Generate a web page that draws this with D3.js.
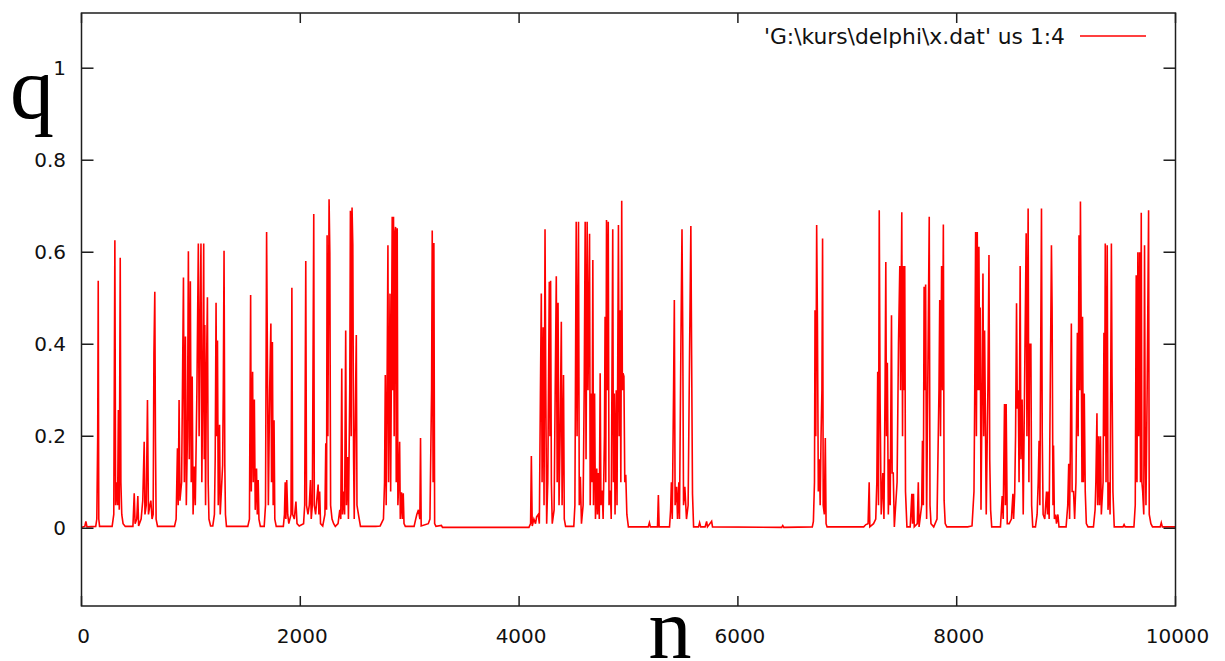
<!DOCTYPE html>
<html>
<head>
<meta charset="utf-8">
<script src="https://cdn.jsdelivr.net/npm/d3@7"></script>
<style>
    body { margin: 0; background: #fff; }
    svg { display: block; }
</style>
</head>
<body>
<div id="chart"></div>
<script>
// Tick values of both axes
const xTicks = [0, 2000, 4000, 6000, 8000, 10000];
const yTicks = [0, 0.2, 0.4, 0.6, 0.8, 1];

const legendLabel = "'G:\\kurs\\delphi\\x.dat' us 1:4";

// Curve vertices [n, q]
const cluster1 = [
    [0,0.002],[30,0.004],[40,0.015],[50,0.003],[130,0.004],[140,0.02],[148,0.2],[153,0.538],[158,0.02],[165,0.004],
    [280,0.004],[295,0.03],[305,0.626],[312,0.05],[320,0.1],[330,0.05],[337,0.257],[345,0.04],[354,0.588],[360,0.1],[368,0.03],[380,0.01],[400,0.004],
    [470,0.004],[482,0.076],[490,0.01],[505,0.02],[515,0.07],[522,0.005],[545,0.02],[560,0.06],[573,0.188],[580,0.03],[592,0.05],[603,0.279],[612,0.03],[625,0.05],[634,0.06],[645,0.02],[655,0.03],[662,0.38],[670,0.514],[676,0.195],[682,0.02],[695,0.004],
    [850,0.004],[865,0.02],[877,0.174],[884,0.05],[892,0.279],[900,0.06],[915,0.1],[932,0.545],[940,0.1],[950,0.417],[958,0.05],[968,0.2],[977,0.602],[985,0.15],[995,0.537],[1003,0.1],[1012,0.33],[1020,0.03],[1030,0.134],[1040,0.05],[1055,0.3],[1068,0.619],[1075,0.2],[1084,0.45],[1092,0.619],[1100,0.1],[1108,0.3],[1117,0.619],[1122,0.15],[1127,0.442],[1134,0.05],[1142,0.337],[1151,0.502],[1158,0.1],[1165,0.02],[1180,0.005],
    [1200,0.005],[1215,0.03],[1222,0.15],[1230,0.49],[1236,0.2],[1243,0.408],[1250,0.05],[1262,0.225],[1268,0.03],[1290,0.137],[1296,0.3],[1303,0.603],[1310,0.137],[1316,0.03],[1325,0.004]
];

const cluster2 = [
    [1520,0.004],[1535,0.02],[1546,0.507],[1552,0.08],[1564,0.34],[1570,0.1],[1580,0.28],[1588,0.04],[1600,0.13],[1607,0.03],[1615,0.105],[1622,0.02],[1635,0.004],
    [1670,0.004],[1682,0.05],[1692,0.644],[1700,0.344],[1708,0.05],[1720,0.3],[1731,0.445],[1737,0.1],[1745,0.405],[1752,0.05],[1760,0.235],[1767,0.02],[1780,0.004],
    [1845,0.004],[1855,0.03],[1862,0.1],[1868,0.02],[1876,0.105],[1885,0.03],[1895,0.01],[1915,0.03],[1923,0.523],[1930,0.03],[1945,0.02],[1960,0.058],[1970,0.01],[1990,0.005],
    [2030,0.01],[2040,0.05],[2050,0.581],[2057,0.05],[2070,0.03],[2082,0.05],[2093,0.105],[2100,0.02],[2110,0.05],[2123,0.683],[2128,0.05],[2140,0.03],[2150,0.06],[2163,0.095],[2170,0.03],[2177,0.08],[2185,0.01],[2205,0.005],[2225,0.03],[2233,0.185],[2240,0.04],[2245,0.637],[2252,0.2],[2263,0.715],[2270,0.597],[2277,0.05],[2290,0.02],[2305,0.01],[2320,0.004],
    [2345,0.01],[2361,0.04],[2370,0.02],[2379,0.347],[2386,0.03],[2398,0.08],[2405,0.03],[2415,0.43],[2422,0.05],[2433,0.155],[2440,0.02],[2452,0.3],[2458,0.69],[2465,0.2],[2473,0.697],[2480,0.615],[2487,0.155],[2493,0.02],[2500,0.2],[2512,0.42],[2518,0.05],[2535,0.025],[2550,0.004],
    [2690,0.004],[2730,0.005],[2760,0.02],[2770,0.1],[2777,0.333],[2785,0.05],[2793,0.3],[2801,0.615],[2807,0.1],[2820,0.51],[2826,0.08],[2834,0.4],[2840,0.677],[2845,0.3],[2852,0.677],[2858,0.2],[2865,0.64],[2871,0.655],[2877,0.1],[2886,0.652],[2892,0.05],[2900,0.1],[2908,0.188],[2914,0.02],[2925,0.078],[2933,0.02],[2941,0.076],[2948,0.01],[2960,0.004],
    [3040,0.004],[3055,0.02],[3065,0.03],[3080,0.04],[3093,0.02],[3099,0.196],[3105,0.005],[3170,0.01],[3185,0.02],[3200,0.3],[3206,0.647],[3214,0.1],[3221,0.62],[3228,0.01],[3240,0.004],[3290,0.006],[3300,0.002]
];

const cluster3 = [
    [4090,0.002],[4105,0.01],[4112,0.157],[4120,0.005],[4135,0.02],[4150,0.01],[4160,0.025],[4175,0.03],[4185,0.01],[4195,0.3],[4203,0.51],[4210,0.1],[4220,0.437],[4228,0.05],[4237,0.65],[4244,0.3],[4252,0.01],[4262,0.1],[4276,0.536],[4282,0.2],[4288,0.538],[4295,0.1],[4303,0.01],[4320,0.04],[4330,0.3],[4340,0.548],[4348,0.1],[4356,0.49],[4365,0.05],[4375,0.2],[4386,0.449],[4393,0.05],[4406,0.333],[4413,0.02],[4425,0.004],
    [4500,0.004],[4510,0.05],[4522,0.666],[4530,0.2],[4543,0.666],[4550,0.05],[4560,0.112],[4570,0.01],[4585,0.05],[4595,0.3],[4604,0.666],[4612,0.15],[4622,0.666],[4630,0.3],[4644,0.64],[4650,0.05],[4660,0.293],[4667,0.1],[4674,0.583],[4680,0.05],[4690,0.293],[4698,0.02],[4710,0.13],[4716,0.03],[4725,0.12],[4733,0.02],[4741,0.337],[4748,0.05],[4760,0.082],[4768,0.02],[4780,0.2],[4786,0.46],[4792,0.1],[4799,0.67],[4806,0.3],[4815,0.666],[4822,0.05],[4835,0.082],[4842,0.02],[4856,0.65],[4862,0.1],[4870,0.293],[4877,0.03],[4888,0.3],[4895,0.05],[4908,0.659],[4915,0.2],[4922,0.474],[4930,0.1],[4938,0.712],[4944,0.3],[4950,0.337],[4958,0.33],[4966,0.1],[4975,0.116],[4985,0.03],[4999,0.003],
    [5180,0.003],[5191,0.012],[5200,0.003],[5265,0.003],[5273,0.072],[5280,0.003],
    [5375,0.003],[5385,0.04],[5392,0.1],[5400,0.02],[5412,0.3],[5419,0.496],[5426,0.05],[5440,0.09],[5448,0.02],[5460,0.1],[5466,0.02],[5479,0.4],[5489,0.65],[5496,0.42],[5503,0.05],[5515,0.09],[5530,0.02],[5545,0.05],[5558,0.376],[5570,0.657],[5577,0.376],[5585,0.075],[5595,0.003],
    [5640,0.003],[5650,0.012],[5660,0.003],[5700,0.003],[5714,0.015],[5722,0.003],[5760,0.015],[5768,0.003]
];

const cluster4 = [
    [6400,0.002],[6410,0.006],[6420,0.002],[6680,0.003],[6690,0.015],[6700,0.1],[6705,0.474],[6712,0.2],[6720,0.659],[6727,0.445],[6735,0.08],[6745,0.15],[6752,0.05],[6760,0.2],[6768,0.3],[6774,0.63],[6780,0.05],[6790,0.03],[6799,0.196],[6806,0.01],[6815,0.003]
];

const cluster5 = [
    [7150,0.003],[7170,0.008],[7190,0.01],[7200,0.1],[7206,0.003],[7240,0.01],[7260,0.02],[7270,0.1],[7278,0.34],[7285,0.05],[7292,0.691],[7300,0.27],[7310,0.03],[7325,0.12],[7335,0.02],[7345,0.3],[7352,0.579],[7358,0.2],[7366,0.36],[7375,0.03],[7385,0.15],[7392,0.05],[7404,0.463],[7410,0.12],[7420,0.12],[7430,0.003],[7455,0.1],[7468,0.4],[7480,0.57],[7487,0.3],[7498,0.687],[7505,0.2],[7510,0.57],[7518,0.3],[7525,0.57],[7532,0.08],[7545,0.003],
    [7575,0.003],[7590,0.075],[7596,0.01],[7605,0.075],[7612,0.003],[7640,0.01],[7649,0.1],[7656,0.003],[7680,0.05],[7687,0.19],[7695,0.05],[7702,0.525],[7710,0.3],[7716,0.53],[7725,0.02],[7735,0.3],[7749,0.677],[7756,0.05],[7765,0.01],[7790,0.003],[7820,0.02],[7838,0.3],[7845,0.496],[7852,0.2],[7862,0.57],[7870,0.3],[7878,0.66],[7885,0.06],[7895,0.01],[7910,0.003]
];

const cluster6 = [
    [8100,0.003],[8140,0.005],[8158,0.08],[8165,0.3],[8173,0.644],[8180,0.2],[8188,0.644],[8195,0.3],[8203,0.612],[8210,0.3],[8215,0.48],[8222,0.04],[8232,0.3],[8240,0.554],[8247,0.2],[8255,0.43],[8262,0.25],[8270,0.03],[8285,0.3],[8295,0.594],[8302,0.15],[8310,0.04],[8320,0.003],
    [8400,0.003],[8416,0.07],[8425,0.02],[8437,0.27],[8445,0.05],[8452,0.27],[8462,0.01],[8480,0.01],[8500,0.02],[8514,0.075],[8520,0.02],[8530,0.075],[8538,0.2],[8547,0.489],[8554,0.26],[8563,0.3],[8570,0.1],[8580,0.57],[8587,0.15],[8598,0.28],[8608,0.03],[8620,0.3],[8635,0.641],[8642,0.2],[8653,0.695],[8660,0.1],[8666,0.4],[8678,0.4],[8685,0.05],[8695,0.003],
    [8720,0.003],[8735,0.03],[8745,0.1],[8753,0.19],[8760,0.05],[8775,0.695],[8782,0.2],[8790,0.03],[8805,0.02],[8821,0.08],[8830,0.03],[8837,0.08],[8845,0.02],[8855,0.3],[8866,0.615],[8872,0.48],[8880,0.05],[8885,0.18],[8893,0.02],[8905,0.03],[8912,0.01],[8925,0.03],[8935,0.003],
    [9000,0.003],[9015,0.05],[9024,0.14],[9032,0.02],[9040,0.2],[9048,0.445],[9055,0.08],[9068,0.08],[9078,0.02],[9090,0.1],[9103,0.425],[9110,0.2],[9118,0.637],[9125,0.3],[9131,0.71],[9137,0.46],[9145,0.1],[9150,0.46],[9158,0.1],[9166,0.293],[9175,0.08],[9185,0.01],[9200,0.003],
    [9250,0.003],[9265,0.04],[9272,0.1],[9282,0.25],[9288,0.05],[9297,0.2],[9305,0.05],[9314,0.2],[9322,0.03],[9338,0.1],[9346,0.425],[9352,0.2],[9358,0.619],[9365,0.1],[9376,0.615],[9383,0.04],[9395,0.1],[9402,0.03],[9414,0.619],[9420,0.33],[9428,0.08],[9440,0.003],
    [9520,0.003],[9530,0.008],[9540,0.003],[9620,0.003],[9632,0.05],[9641,0.55],[9648,0.1],[9656,0.6],[9663,0.2],[9672,0.6],[9680,0.1],[9687,0.686],[9693,0.1],[9700,0.08],[9710,0.03],[9717,0.615],[9723,0.2],[9730,0.05],[9741,0.3],[9754,0.691],[9760,0.03],[9775,0.01],[9790,0.003],
    [9860,0.003],[9870,0.012],[9880,0.003],[10000,0.003]
];

const width = 1225;
const height = 661;

// Plot frame
const plotLeft = 81.5, plotRight = 1175.5, plotTop = 13, plotBottom = 606;

const svg = d3.select("#chart").append("svg")
    .attr("width", width)
    .attr("height", height);

const xScale = d3.scaleLinear().domain([0, 10000]).range([plotLeft, plotRight]);
const yScale = d3.scaleLinear().domain([-0.169, 1.12]).range([plotBottom, plotTop]);

const tickFont = "'DejaVu Sans', Verdana, sans-serif";
const frameColor = "#1e1e1e";

// Clip the curve to the frame
svg.append("clipPath").attr("id", "plot-clip")
    .append("rect")
    .attr("x", plotLeft).attr("y", plotTop)
    .attr("width", plotRight - plotLeft).attr("height", plotBottom - plotTop);

// Data line
const points = [].concat(cluster1, cluster2, cluster3, cluster4, cluster5, cluster6);
const line = d3.line()
    .x(d => xScale(d[0]))
    .y(d => yScale(d[1]));

svg.append("path")
    .datum(points)
    .attr("clip-path", "url(#plot-clip)")
    .attr("fill", "none")
    .attr("stroke", "#ff0000")
    .attr("stroke-width", 1.6)
    .attr("d", line);

// Frame and mirrored ticks
const frame = svg.append("g")
    .attr("stroke", frameColor)
    .attr("stroke-width", 1.5)
    .attr("fill", "none");

frame.append("rect")
    .attr("x", plotLeft).attr("y", plotTop)
    .attr("width", plotRight - plotLeft).attr("height", plotBottom - plotTop);

xTicks.forEach(t => {
    let x = xScale(t);
    frame.append("line").attr("x1", x).attr("x2", x).attr("y1", plotBottom).attr("y2", plotBottom - 10);
    frame.append("line").attr("x1", x).attr("x2", x).attr("y1", plotTop).attr("y2", plotTop + 10);
});

yTicks.forEach(t => {
    let y = yScale(t);
    frame.append("line").attr("x1", plotLeft).attr("x2", plotLeft + 12).attr("y1", y).attr("y2", y);
    frame.append("line").attr("x1", plotRight).attr("x2", plotRight - 12).attr("y1", y).attr("y2", y);
});

// Tick labels
svg.append("g").selectAll("text")
    .data(yTicks)
    .enter().append("text")
        .attr("x", 66)
        .attr("y", d => yScale(d))
        .attr("dy", "0.36em")
        .attr("text-anchor", "end")
        .attr("font-family", tickFont)
        .attr("font-size", 20)
        .attr("fill", "#111")
        .text(d => d3.format("")(d));

svg.append("g").selectAll("text")
    .data(xTicks)
    .enter().append("text")
        .attr("x", d => xScale(d) + 2)
        .attr("y", 643)
        .attr("text-anchor", "middle")
        .attr("font-family", tickFont)
        .attr("font-size", 20)
        .attr("fill", "#111")
        .text(d => d);

// Axis titles
svg.append("text")
    .attr("x", 10)
    .attr("y", 118)
    .attr("font-family", "'Liberation Serif', 'Times New Roman', serif")
    .attr("font-size", 88)
    .attr("fill", "#000")
    .text("q");

svg.append("text")
    .attr("x", 670)
    .attr("y", 658)
    .attr("text-anchor", "middle")
    .attr("font-family", "'Liberation Serif', 'Times New Roman', serif")
    .attr("font-size", 86)
    .attr("fill", "#000")
    .text("n");

// Legend
svg.append("text")
    .attr("x", 1065)
    .attr("y", 44)
    .attr("text-anchor", "end")
    .attr("font-family", tickFont)
    .attr("font-size", 21.8)
    .attr("fill", "#111")
    .text(legendLabel);

svg.append("line")
    .attr("x1", 1080).attr("x2", 1146)
    .attr("y1", 36).attr("y2", 36)
    .attr("stroke", "#ff0000")
    .attr("stroke-width", 1.3);
</script>
</body>
</html>
